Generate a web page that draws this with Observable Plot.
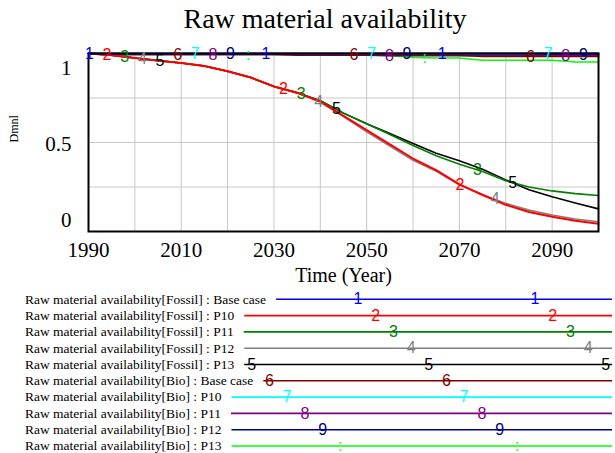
<!DOCTYPE html>
<html>
<head>
<meta charset="utf-8">
<script src="https://cdn.jsdelivr.net/npm/d3@7"></script>
<script src="https://cdn.jsdelivr.net/npm/@observablehq/plot@0.6"></script>
<style>
  html, body { margin: 0; padding: 0; background: #fff; }
  #page { position: relative; width: 615px; height: 453px; overflow: hidden; background: #fff; }
  #title { position: absolute; left: 0; top: 5px; width: 650px; text-align: center;
           font: 28px "Liberation Serif", serif; line-height: 28px; color: #000; white-space: nowrap; }
  #chart { position: absolute; left: 0; top: 40px; }
  #legend { position: absolute; left: 0; top: 290px; }
</style>
</head>
<body>
<div id="page">
  <div id="title">Raw material availability</div>
  <div id="chart"></div>
  <div id="legend"></div>
</div>
<script>
// ---------- data ----------
const years = [1990,1995,2000,2005,2010,2015,2020,2025,2030,2035,2040,2045,2050,2055,2060,2065,2070,2075,2080,2085,2090,2095,2100];

const fossilBase = [1,1,1,1,1,1,1,1,1,1,1,1,1,1,1,1,1,1,1,1,1,1,1];
const fossilP10  = [1.0,0.99,0.975,0.96,0.947,0.93,0.90,0.865,0.815,0.78,0.73,0.65,0.57,0.49,0.41,0.345,0.265,0.205,0.15,0.11,0.083,0.06,0.043];
const fossilP11  = [1.0,0.99,0.975,0.96,0.947,0.93,0.90,0.865,0.815,0.78,0.735,0.665,0.605,0.545,0.483,0.425,0.378,0.337,0.285,0.25,0.228,0.213,0.202];
const fossilP12  = [1.0,0.99,0.975,0.96,0.947,0.93,0.90,0.865,0.815,0.778,0.727,0.645,0.56,0.48,0.40,0.338,0.262,0.208,0.158,0.12,0.093,0.07,0.055];
const fossilP13  = [1.0,0.99,0.975,0.96,0.947,0.93,0.90,0.865,0.815,0.78,0.735,0.665,0.605,0.55,0.495,0.44,0.398,0.35,0.29,0.235,0.195,0.16,0.127];
const bioBase    = [1.0,0.995,0.995,0.995,0.995,0.995,0.995,0.995,0.995,0.99,0.99,0.99,0.99,0.99,0.99,0.99,0.99,0.983,0.983,0.983,0.983,0.983,0.983];
const bioP10     = [1.0,0.997,0.997,0.997,0.997,0.997,0.997,0.997,0.997,0.997,0.997,0.997,0.997,0.997,0.997,0.997,0.997,0.997,0.997,0.997,1.0,1.0,1.0];
const bioP11     = [1.0,0.995,0.995,0.995,0.995,0.995,0.995,0.995,0.995,0.995,0.995,0.99,0.99,0.988,0.988,0.988,0.988,0.988,0.988,0.988,0.988,0.988,0.988];
const bioP12     = [1.0,0.998,0.998,0.998,0.998,0.998,0.998,0.998,0.998,0.998,0.998,0.998,0.998,0.998,0.998,0.998,0.998,0.993,0.993,0.993,0.993,0.993,0.993];
const bioP13     = [1.0,0.995,0.995,0.995,0.995,0.995,0.995,0.995,0.995,0.995,0.995,0.995,0.992,0.988,0.978,0.975,0.975,0.962,0.962,0.962,0.962,0.952,0.952];

const seriesNames = [
  "Raw material availability[Fossil] : Base case",
  "Raw material availability[Fossil] : P10",
  "Raw material availability[Fossil] : P11",
  "Raw material availability[Fossil] : P12",
  "Raw material availability[Fossil] : P13",
  "Raw material availability[Bio] : Base case",
  "Raw material availability[Bio] : P10",
  "Raw material availability[Bio] : P11",
  "Raw material availability[Bio] : P12",
  "Raw material availability[Bio] : P13"
];
const seriesValues = [fossilBase, fossilP10, fossilP11, fossilP12, fossilP13, bioBase, bioP10, bioP11, bioP12, bioP13];
const seriesColors = ["#0000ff","#ff0000","#008000","#808080","#000000","#800000","#00ffff","#800080","#000080","#00ff00"];
const seriesSymbols = ["1","2","3","4","5","6","7","8","9",":"];

const xTickLabels = [1990, 2010, 2030, 2050, 2070, 2090];
const xGridYears = [2000, 2010, 2020, 2030, 2040, 2050, 2060, 2070, 2080, 2090];
const yTickLabels = [0, 0.5, 1];
const yGridValues = [0.25, 0.5, 0.75];

// ---------- build tables ----------
const rows = [];
for (let i = seriesNames.length - 1; i >= 0; i--) {
  years.forEach((yr, j) => rows.push({series: seriesNames[i], idx: i, year: yr, value: seriesValues[i][j], color: seriesColors[i]}));
}

// Vensim-style numbered markers every ~3.8 years, cycling through the series
const markerStart = 1990.2, markerStep = 3.805;
const markers = [];
for (let k = 0; ; k++) {
  const t = markerStart + k * markerStep;
  if (t > 2100) break;
  const i = k % seriesNames.length;
  const v = d3.scaleLinear().domain(years).range(seriesValues[i])(t);
  markers.push({t, v, sym: seriesSymbols[i], color: seriesColors[i]});
}

const serif = "Liberation Serif";
const sans = "Liberation Sans";

const chart = Plot.plot({
  width: 615, height: 250,
  marginTop: 13, marginBottom: 59, marginLeft: 88, marginRight: 17,
  style: {background: "white", overflow: "visible", fontFamily: serif},
  x: {domain: [1990, 2100], axis: null},
  y: {domain: [0, 1], axis: null},
  color: {type: "identity"},
  marks: [
    Plot.ruleX(xGridYears, {x: d => d, stroke: "#c8c8c8", strokeWidth: 1}),
    Plot.ruleY(yGridValues, {y: d => d, stroke: "#c8c8c8", strokeWidth: 1}),
    Plot.line(rows, {x: "year", y: "value", z: "series", stroke: "color",
      strokeWidth: d => (d.idx === 1 || d.idx === 0 ? 2 : 1.6), curve: "linear"}),
    Plot.frame({stroke: "black", strokeWidth: 2}),
    Plot.text(markers, {x: "t", y: "v", text: "sym", fill: "color", fontSize: 16,
      fontFamily: sans, lineAnchor: "middle"}),
    Plot.text(xTickLabels, {x: d => d, text: d => String(d), frameAnchor: "bottom", lineAnchor: "top",
      dy: 11, fontSize: 21, fontFamily: serif, fill: "black"}),
    ...yTickLabels.map(v => Plot.text([v], {y: d => d, text: d => String(d), frameAnchor: "left",
      textAnchor: "end", lineAnchor: "middle", dx: -17, dy: (v - 0.5) * 26 + 2,
      fontSize: 21, fontFamily: serif, fill: "black"})),
    Plot.text(["Dmnl"], {text: d => d, frameAnchor: "left", dx: -74, rotate: -90,
      fontSize: 12, fontFamily: serif, fill: "black"}),
    Plot.text(["Time (Year)"], {text: d => d, frameAnchor: "bottom", lineAnchor: "top",
      dy: 36, fontSize: 20, fontFamily: serif, fill: "black"})
  ]
});
document.getElementById("chart").appendChild(chart);

// ---------- legend ----------
const legendSvg = d3.select("#legend").append("svg")
  .attr("width", 615).attr("height", 163)
  .style("font-family", serif);
const rowY0 = 9.3, rowStep = 16.3;
seriesNames.forEach((name, i) => {
  const y = rowY0 + rowStep * i;
  const txt = legendSvg.append("text")
    .attr("x", 25).attr("y", y).attr("dy", "0.32em")
    .attr("font-size", 13.5).attr("fill", "black").text(name);
  const x1 = 25 + txt.node().getComputedTextLength() + 10;
  legendSvg.append("line").attr("x1", x1).attr("x2", 612).attr("y1", y).attr("y2", y)
    .attr("stroke", seriesColors[i]).attr("stroke-width", 1.6);
  for (let m = 0; m < 4; m++) {
    const mx = 181 + 17.7 * i + 177 * m;
    if (mx < x1 - 2 || mx > 612) continue;
    legendSvg.append("text").attr("x", mx).attr("y", y).attr("dy", "0.32em")
      .attr("text-anchor", "middle").attr("font-family", sans).attr("font-size", 16)
      .attr("fill", seriesColors[i]).text(seriesSymbols[i]);
  }
});
</script>
</body>
</html>
